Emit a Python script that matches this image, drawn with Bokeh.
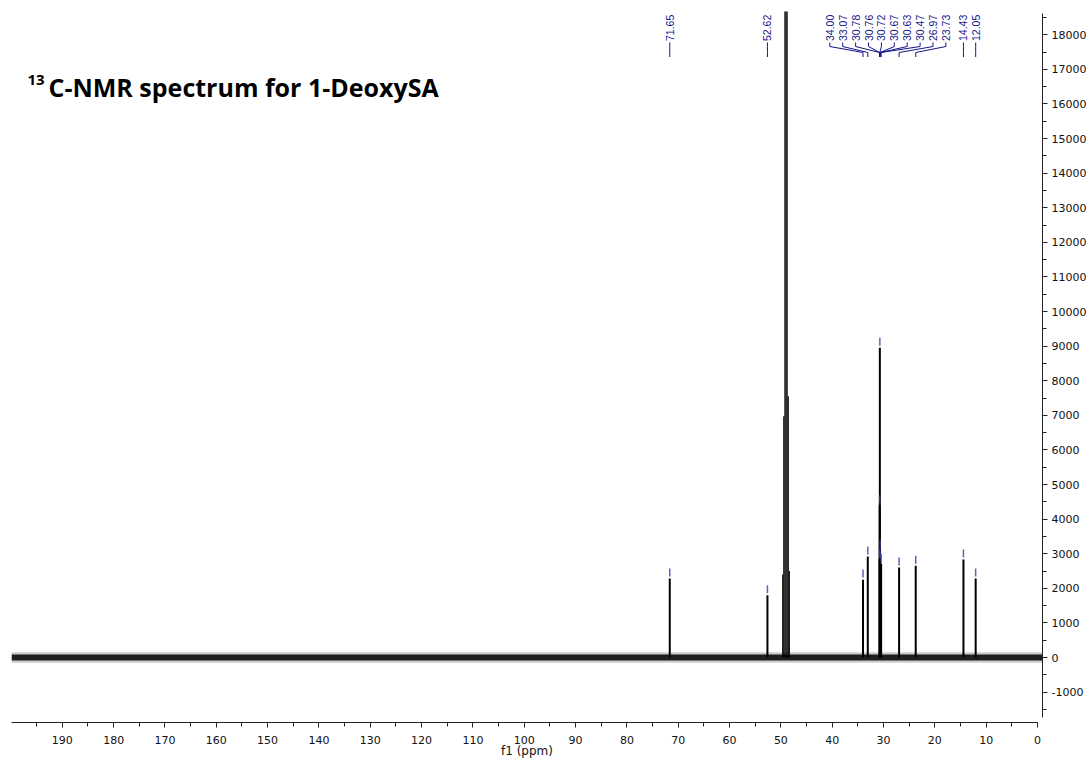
import numpy as np
from bokeh.plotting import figure
from bokeh.models import Range1d, SingleIntervalTicker, Label, ColumnDataSource, NumeralTickFormatter
from bokeh.embed import file_html
from bokeh.resources import INLINE
from bokeh.core.properties import value

# ---------------- data ----------------
peak_ppm = [71.65, 52.62, 34.00, 33.07, 30.78, 30.76, 30.72, 30.67, 30.63, 30.47, 26.97, 23.73, 14.43, 12.05]
peak_height = [2280, 1800, 2250, 2920, 2850, 4400, 8950, 3100, 2800, 2700, 2600, 2650, 2830, 2280]
peak_labels = ["71.65", "52.62", "34.00", "33.07", "30.78", "30.76", "30.72", "30.67",
               "30.63", "30.47", "26.97", "23.73", "14.43", "12.05"]
solvent_ppm = [49.64, 49.43, 49.21, 49.00, 48.79, 48.57, 48.36]
solvent_height = [2400, 6970, 26000, 30000, 26000, 7550, 2500]
noise_amp = 150
x_tick_interval = 10
y_tick_interval = 1000

# ---------------- layout helpers ----------------
X_START, X_END = 199.9, -0.97
PX_PER_PPM = (1042 - 11) / (X_START - X_END)
PX_PER_UNIT = 0.0346          # page px per intensity unit
Y0_PAGE = 657                 # page y of intensity 0

def val_at(page_y):
    return (Y0_PAGE - page_y) / PX_PER_UNIT

def ppm_at(page_x):
    return X_START - (page_x - 11) / PX_PER_PPM

p = figure(width=1091, height=764, x_range=Range1d(X_START, X_END),
           y_range=Range1d(val_at(722), val_at(11)), output_backend="svg",
           toolbar_location=None, y_axis_location="right",
           min_border_left=11, min_border_top=11, min_border_right=49,
           min_border_bottom=42)
p.outline_line_color = None
p.xgrid.visible = False
p.ygrid.visible = False
p.background_fill_color = "white"
p.border_fill_color = "white"

# baseline noise band
p.varea(x=[X_START, X_END], y1=[-noise_amp] * 2, y2=[noise_amp] * 2,
        fill_color="black", fill_alpha=0.2)
p.varea(x=[X_START, X_END], y1=[-noise_amp * 0.6] * 2, y2=[noise_amp * 0.6] * 2,
        fill_color="black", fill_alpha=0.85)

# solvent septet
p.segment(x0=solvent_ppm, y0=[0] * len(solvent_ppm), x1=solvent_ppm, y1=solvent_height,
          line_color="black", line_width=1.2)

# compound peaks
src = ColumnDataSource(dict(x=peak_ppm, h=peak_height, z=[0] * len(peak_ppm),
                            m0=[h + 60 for h in peak_height],
                            m1=[h + 290 for h in peak_height]))
p.segment(x0="x", y0="z", x1="x", y1="h", source=src, line_color="black", line_width=2)
p.segment(x0="x", y0="m0", x1="x", y1="m1", source=src, line_color="#3a3aa8",
          line_width=1.5, line_alpha=0.8)

# peak labels with connectors
cluster_start, cluster_step = ppm_at(829.3), 12.9 / PX_PER_PPM
label_x = [peak_ppm[0], peak_ppm[1]] + [cluster_start - cluster_step * i for i in range(10)] + \
          [peak_ppm[12], peak_ppm[13]]
ya, yb, yc, yd = val_at(42), val_at(46), val_at(52), val_at(56.5)
xs = [[lx, lx, px, px] for lx, px in zip(label_x, peak_ppm)]
ys = [[ya, yb, yc, yd] for _ in peak_ppm]
p.multi_line(xs=xs, ys=ys, line_color="#14148a", line_width=1)
p.text(x=label_x, y=[val_at(40.5)] * len(label_x), text=peak_labels, angle=np.pi / 2,
       text_align="left", text_baseline="middle", text_color="#14148a",
       text_font=value("Liberation Sans"), text_font_size="10.5px")

# title
p.add_layout(Label(x=ppm_at(27), y=val_at(79), text="13", text_font="Open Sans",
                   text_font_size="15px", text_font_style="bold", text_color="black",
                   text_baseline="alphabetic"))
p.add_layout(Label(x=ppm_at(48), y=val_at(86), text="C-NMR spectrum for 1-DeoxySA",
                   text_font="Open Sans", text_font_size="25px", text_font_style="bold",
                   text_color="black", text_baseline="alphabetic"))

# axes
xa = p.xaxis[0]
xa.ticker = SingleIntervalTicker(interval=x_tick_interval, num_minor_ticks=2)
xa.bounds = (0, X_START)
xa.major_label_standoff = 8
xa.axis_label = "f1 (ppm)"
xa.axis_label_text_font = "DejaVu Sans"
xa.axis_label_text_font_size = "12px"
xa.axis_label_text_font_style = "normal"
xa.axis_label_text_color = "#111111"
xa.axis_label_standoff = -3
ya_ = p.yaxis[0]
ya_.ticker = SingleIntervalTicker(interval=y_tick_interval, num_minor_ticks=2)
ya_.formatter = NumeralTickFormatter(format="0")
ya_.bounds = (val_at(717), val_at(13))
ya_.major_label_standoff = 4
for ax in (xa, ya_):
    ax.axis_line_color = "#222222"
    ax.major_tick_line_color = "#222222"
    ax.minor_tick_line_color = "#222222"
    ax.major_tick_in = 0
    ax.major_tick_out = 5
    ax.minor_tick_in = 0
    ax.minor_tick_out = 4
    ax.major_label_text_font = "DejaVu Sans"
    ax.major_label_text_font_size = "11px"
    ax.major_label_text_color = "#111111"

open("out.html", "w").write(file_html(p, INLINE))
